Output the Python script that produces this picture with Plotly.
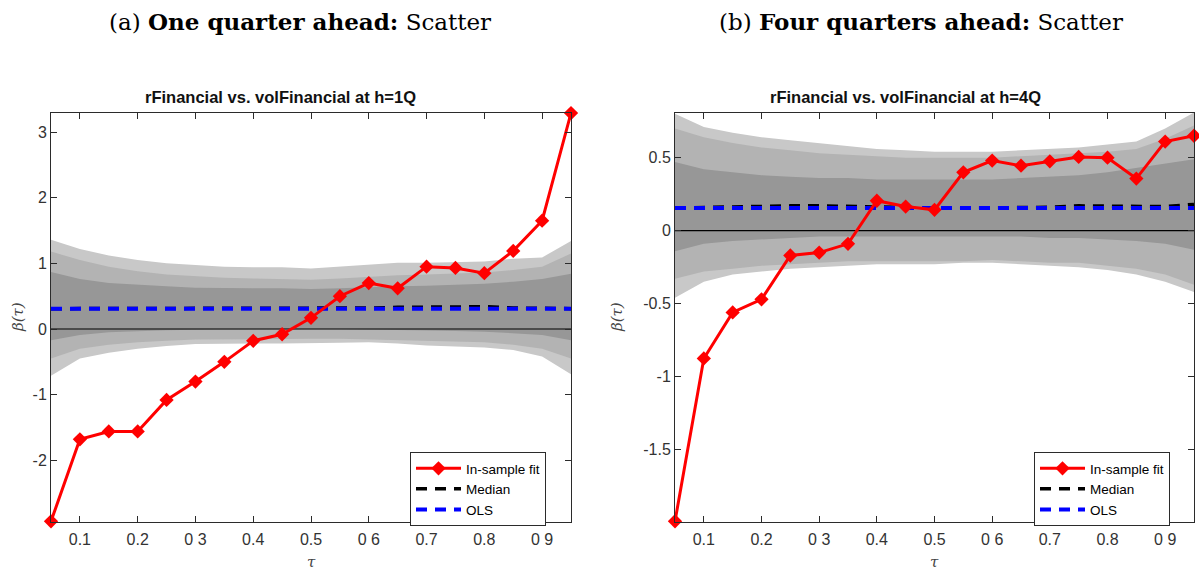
import plotly.graph_objects as go

# ---------------- data ----------------
tau = [0.05, 0.10, 0.15, 0.20, 0.25, 0.30, 0.35, 0.40, 0.45, 0.50,
       0.55, 0.60, 0.65, 0.70, 0.75, 0.80, 0.85, 0.90, 0.95]

# Panel (a): h = 1Q
fit_1q = [-2.93, -1.68, -1.56, -1.56, -1.08, -0.80, -0.50, -0.18, -0.08, 0.17,
          0.50, 0.70, 0.62, 0.95, 0.93, 0.85, 1.19, 1.65, 3.29]
median_1q = [0.31, 0.31, 0.31, 0.31, 0.31, 0.31, 0.32, 0.32, 0.32, 0.31,
             0.31, 0.32, 0.33, 0.33, 0.34, 0.34, 0.32, 0.31, 0.31]
ols_1q = 0.31
outer_hi_1q = [1.36, 1.22, 1.12, 1.05, 1.00, 0.97, 0.95, 0.94, 0.94, 0.92,
               0.95, 0.99, 1.01, 1.01, 1.02, 1.03, 1.07, 1.09, 1.34]
mid_hi_1q = [1.18, 1.05, 0.95, 0.88, 0.83, 0.80, 0.78, 0.77, 0.76, 0.75,
             0.77, 0.80, 0.82, 0.83, 0.84, 0.86, 0.90, 0.95, 1.15]
inner_hi_1q = [0.87, 0.76, 0.70, 0.67, 0.65, 0.63, 0.62, 0.62, 0.62, 0.61,
               0.62, 0.64, 0.65, 0.66, 0.67, 0.69, 0.72, 0.76, 0.84]
inner_lo_1q = [-0.17, -0.09, -0.05, -0.03, -0.02, -0.01, 0.00, 0.00, 0.00, 0.00,
               0.00, -0.01, -0.01, -0.02, -0.03, -0.04, -0.06, -0.09, -0.17]
mid_lo_1q = [-0.45, -0.30, -0.24, -0.20, -0.18, -0.16, -0.15, -0.15, -0.15, -0.15,
             -0.15, -0.15, -0.16, -0.17, -0.19, -0.20, -0.24, -0.30, -0.45]
outer_lo_1q = [-0.71, -0.45, -0.36, -0.30, -0.26, -0.23, -0.22, -0.22, -0.22, -0.22,
               -0.21, -0.20, -0.22, -0.25, -0.27, -0.28, -0.32, -0.42, -0.69]

# Panel (b): h = 4Q
fit_4q = [-1.99, -0.875, -0.56, -0.47, -0.17, -0.15, -0.09, 0.205, 0.165, 0.143,
          0.40, 0.48, 0.445, 0.475, 0.505, 0.50, 0.357, 0.61, 0.65]
median_4q = [0.155, 0.16, 0.165, 0.17, 0.17, 0.17, 0.165, 0.16, 0.16, 0.155,
             0.155, 0.155, 0.16, 0.16, 0.17, 0.17, 0.17, 0.165, 0.18]
ols_4q = 0.155
outer_hi_4q = [0.80, 0.71, 0.67, 0.64, 0.62, 0.60, 0.58, 0.56, 0.55, 0.54,
               0.54, 0.54, 0.55, 0.56, 0.57, 0.59, 0.61, 0.70, 0.81]
mid_hi_4q = [0.70, 0.64, 0.60, 0.57, 0.55, 0.53, 0.52, 0.51, 0.50, 0.50,
             0.50, 0.50, 0.51, 0.52, 0.53, 0.54, 0.56, 0.63, 0.72]
inner_hi_4q = [0.47, 0.42, 0.40, 0.38, 0.37, 0.36, 0.36, 0.35, 0.35, 0.35,
               0.35, 0.35, 0.36, 0.37, 0.38, 0.40, 0.43, 0.46, 0.49]
inner_lo_4q = [-0.14, -0.09, -0.07, -0.06, -0.05, -0.04, -0.04, -0.04, -0.04, -0.04,
               -0.04, -0.04, -0.04, -0.05, -0.05, -0.06, -0.07, -0.09, -0.13]
mid_lo_4q = [-0.33, -0.28, -0.26, -0.24, -0.23, -0.22, -0.21, -0.21, -0.21, -0.21,
             -0.21, -0.20, -0.21, -0.22, -0.22, -0.24, -0.26, -0.30, -0.37]
outer_lo_4q = [-0.46, -0.35, -0.30, -0.28, -0.26, -0.25, -0.24, -0.23, -0.23, -0.23,
               -0.22, -0.22, -0.23, -0.24, -0.25, -0.27, -0.30, -0.35, -0.42]

x_tickvals = [0.1, 0.2, 0.3, 0.4, 0.5, 0.6, 0.7, 0.8, 0.9]
x_ticktext = ["0.1", "0.2", "0 3", "0.4", "0.5", "0 6", "0.7", "0.8", "0 9"]
y_tickvals_1q = [-2, -1, 0, 1, 2, 3]
y_ticktext_1q = ["-2", "-1", "0", "1", "2", "3"]
y_tickvals_4q = [-1.5, -1, -0.5, 0, 0.5]
y_ticktext_4q = ["-1.5", "-1", "-0.5", "0", "0.5"]

main_titles = ["(a) <b>One quarter ahead:</b> Scatter",
               "(b) <b>Four quarters ahead:</b> Scatter"]
sub_titles = ["rFinancial vs. volFinancial at h=1Q",
              "rFinancial vs. volFinancial at h=4Q"]
legend_names = ["In-sample fit", "Median", "OLS"]

# ---------------- styling ----------------
W, H = 1199, 571
AXC = "#2b2b2b"
TICKC = "#333333"
C_OUT, C_MID, C_IN = "#c8c8c8", "#b3b3b3", "#979797"

fig = go.Figure()


def add_panel(n, fit, med, ols, bands, legend_id):
    xa = "x" if n == 1 else "x2"
    ya = "y" if n == 1 else "y2"
    for (hi, lo), col in zip(bands, [C_OUT, C_MID, C_IN]):
        fig.add_trace(go.Scatter(
            x=tau + tau[::-1], y=hi + lo[::-1], fill="toself", fillcolor=col,
            line=dict(width=0, color=col), mode="lines", hoverinfo="skip",
            showlegend=False, xaxis=xa, yaxis=ya))
    # zero reference line
    fig.add_trace(go.Scatter(
        x=[tau[0], tau[-1]], y=[0, 0], mode="lines",
        line=dict(color="black", width=1.2), showlegend=False,
        hoverinfo="skip", xaxis=xa, yaxis=ya))
    fig.add_trace(go.Scatter(
        x=tau, y=med, mode="lines", name=legend_names[1],
        line=dict(color="black", width=3.5, dash="11px,8px"),
        xaxis=xa, yaxis=ya, legend=legend_id, legendrank=2))
    fig.add_trace(go.Scatter(
        x=tau, y=[ols] * len(tau), mode="lines", name=legend_names[2],
        line=dict(color="#0000ff", width=4, dash="11px,8px"),
        xaxis=xa, yaxis=ya, legend=legend_id, legendrank=3))
    fig.add_trace(go.Scatter(
        x=tau, y=fit, mode="lines+markers", name=legend_names[0],
        line=dict(color="#ff0000", width=3),
        marker=dict(symbol="diamond", size=11, color="#ff0000"),
        cliponaxis=False,
        xaxis=xa, yaxis=ya, legend=legend_id, legendrank=1))


add_panel(1, fit_1q, median_1q, ols_1q,
          [(outer_hi_1q, outer_lo_1q), (mid_hi_1q, mid_lo_1q), (inner_hi_1q, inner_lo_1q)],
          "legend")
add_panel(2, fit_4q, median_4q, ols_4q,
          [(outer_hi_4q, outer_lo_4q), (mid_hi_4q, mid_lo_4q), (inner_hi_4q, inner_lo_4q)],
          "legend2")

y_top = 1 - 112.7 / H
y_bot = 1 - 521.7 / H
dom1 = [51 / W, 571 / W]
dom2 = [675 / W, 1194 / W]

axis_common = dict(showline=True, linecolor=AXC, linewidth=1, mirror="allticks",
                   ticks="inside", ticklen=6, tickcolor=AXC, tickwidth=1,
                   showgrid=False, zeroline=False,
                   tickfont=dict(family="Liberation Sans, Arial", size=16, color=TICKC))

legend_common = dict(y=1 - 452 / H, xanchor="left", yanchor="top",
                     bgcolor="white", bordercolor=AXC, borderwidth=1,
                     font=dict(family="Liberation Sans, Arial", size=13.5, color="black"),
                     tracegroupgap=0, itemwidth=45, traceorder="normal")

fig.update_layout(
    width=W, height=H, margin=dict(l=0, r=0, t=0, b=0),
    paper_bgcolor="white", plot_bgcolor="white",
    xaxis=dict(domain=dom1, range=[0.05, 0.95], anchor="y",
               tickvals=x_tickvals, ticktext=x_ticktext, ticklabelstandoff=3, **axis_common),
    yaxis=dict(domain=[y_bot, y_top], range=[-2.935, 3.295], anchor="x",
               tickvals=y_tickvals_1q, ticktext=y_ticktext_1q, **axis_common),
    xaxis2=dict(domain=dom2, range=[0.05, 0.95], anchor="y2",
                tickvals=x_tickvals, ticktext=x_ticktext, ticklabelstandoff=3, **axis_common),
    yaxis2=dict(domain=[y_bot, y_top], range=[-1.993, 0.808], anchor="x2",
                tickvals=y_tickvals_4q, ticktext=y_ticktext_4q, **axis_common),
    legend=dict(x=410 / W, **legend_common),
    legend2=dict(x=1034 / W, **legend_common),
    showlegend=True,
)

ann = []
for cx, t in zip([300, 921], main_titles):
    ann.append(dict(text=t, x=cx / W, y=1 - 22 / H, xref="paper", yref="paper",
                    xanchor="center", yanchor="middle", showarrow=False,
                    font=dict(family="DejaVu Serif", size=23, color="black")))
for cx, t in zip([280, 905], sub_titles):
    ann.append(dict(text="<b>" + t + "</b>", x=cx / W, y=1 - 97 / H, xref="paper", yref="paper",
                    xanchor="center", yanchor="middle", showarrow=False,
                    font=dict(family="Liberation Sans, Arial", size=16.5, color="#111111")))
for cx in [18, 617]:
    ann.append(dict(text="<i>β(τ)</i>", x=cx / W, y=1 - 317 / H, xref="paper", yref="paper",
                    xanchor="center", yanchor="middle", showarrow=False, textangle=-90,
                    font=dict(family="DejaVu Serif", size=15, color="#444444")))
for cx in [(51 + 571) / 2, (675 + 1194) / 2]:
    ann.append(dict(text="<i>τ</i>", x=cx / W, y=1 - 562 / H, xref="paper", yref="paper",
                    xanchor="center", yanchor="middle", showarrow=False,
                    font=dict(family="DejaVu Serif", size=15, color="#444444")))
fig.update_layout(annotations=ann)

fig.write_html("out.html")
